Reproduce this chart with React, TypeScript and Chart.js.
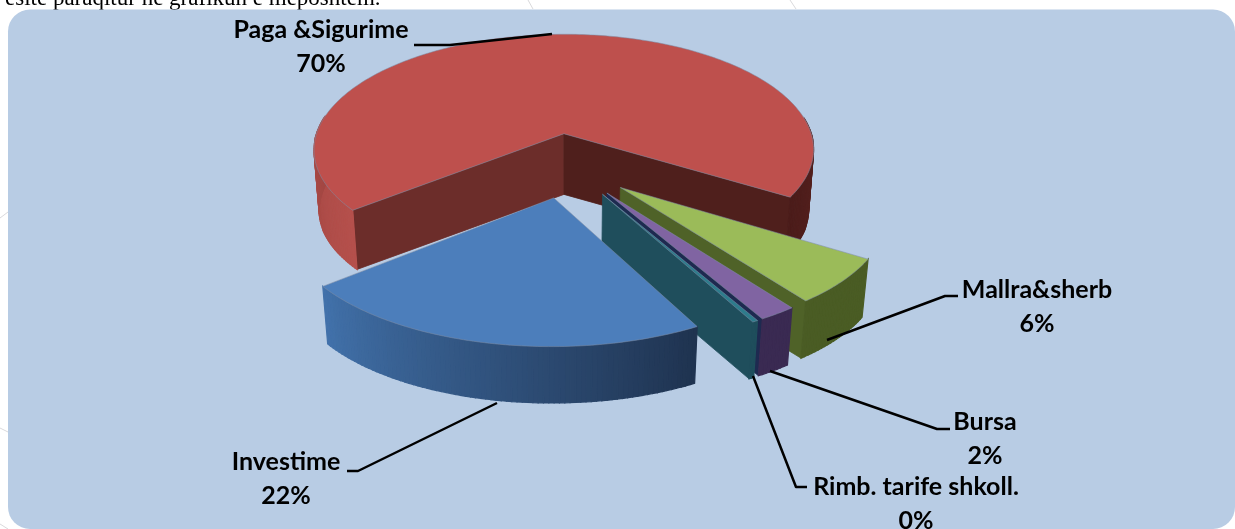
import React, { useEffect, useRef } from "react";
import { Chart, registerables } from "chart.js";

Chart.register(...registerables);

const categories = ["Paga &Sigurime", "Mallra&sherb", "Bursa", "Rimb. tarife shkoll.", "Investime"];
const values = [69.7, 6, 2, 0.3, 22];
const topColors = ["#BE504D", "#9BBB59", "#8064A2", "#2E7C8C", "#4C7EBB"];
const wallStart = ["#B5504C", "#4A5C24", "#3A2A52", "#1F4E5C", "#1F3350"];
const wallEnd = ["#4B1C1A", "#4A5C24", "#3A2A52", "#1F4E5C", "#4272AB"];
const sideStart = ["#6C2D2A", "#4F6228", "#1E2A50", "#1F4E5C", "#1F3350"];
const sideEnd = ["#4F1F1C", "#4F6228", "#1E2A50", "#1F4E5C", "#1F3350"];
const caption = "esite paraqitur në grafikun e mëposhtëm.";

// label layout: text centre x, first line y, leader line polyline
const labelLayout = [
  { x: 321, y: 30, line: [[414, 45], [450, 45], [552, 34]] },
  { x: 1037, y: 290, line: [[958, 296], [945, 296], [827, 340]] },
  { x: 985, y: 422, line: [[950, 429], [937, 429], [770, 371]] },
  { x: 916, y: 487, line: [[807, 487], [796, 487], [753, 376]] },
  { x: 286, y: 462, line: [[347, 471], [358, 471], [497, 403]] },
];
const decor = [
  [528, 0, 533, 9], [790, 0, 796, 9], [0, 428, 8, 432], [0, 524, 8, 529], [0, 218, 8, 212],
];

// projection of the pie plane
const RX = 257;
const RY = 120;
const PERSP_X = 0.145;
const PERSP_Y = 0.13;
const DEPTH = 60;
const BOTTOM_SCALE = 0.98;
const STEP = Math.PI / 180;

const hex = (c: string) => [1, 3, 5].map((i) => parseInt(c.slice(i, i + 2), 16));
const mix = (a: string, b: string, t: number) => {
  const A = hex(a), B = hex(b);
  return `rgb(${A.map((v, i) => Math.round(v + (B[i] - v) * t)).join(",")})`;
};

const pie3d = {
  id: "pie3d",
  beforeDraw(chart: any) {
    const c = chart.ctx as CanvasRenderingContext2D;
    c.save();
    c.fillStyle = "#fff";
    c.fillRect(0, 0, chart.width, chart.height);
    c.strokeStyle = "#d9d9dc";
    c.lineWidth = 1;
    decor.forEach(([a, b, d, e]) => {
      c.beginPath();
      c.moveTo(a, b);
      c.lineTo(d, e);
      c.stroke();
    });
    c.fillStyle = "#000";
    c.font = '23px "Liberation Serif"';
    c.textBaseline = "alphabetic";
    c.textAlign = "left";
    c.fillText(caption, 5, 5);
    c.fillStyle = "#B8CCE4";
    c.beginPath();
    c.roundRect(8, 9.5, 1227, 519.5, 22);
    c.fill();
    c.restore();
  },
  beforeDatasetsDraw(chart: any) {
    const c = chart.ctx as CanvasRenderingContext2D;
    const arcs = chart.getDatasetMeta(0).data;
    const project = (arc: any, angle: number, radial: number, low: boolean) => {
      const half = (arc.startAngle + arc.endAngle) / 2;
      const d = (arc.options.offset || 0) / 4 / arc.outerRadius;
      const u = d * Math.cos(half) + radial * Math.cos(angle);
      const v = d * Math.sin(half) + radial * Math.sin(angle);
      const sx = 1 / (1 - PERSP_X * v);
      const sy = 1 / (1 - PERSP_Y * v);
      const k = low ? BOTTOM_SCALE : 1;
      return [arc.x + RX * u * sx * k, arc.y + RY * v * sy * k + (low ? DEPTH : 0)];
    };
    const poly = (pts: number[][], fill: string, edge?: string, width = 1.2) => {
      c.beginPath();
      pts.forEach((p, i) => (i ? c.lineTo(p[0], p[1]) : c.moveTo(p[0], p[1])));
      c.closePath();
      c.fillStyle = fill;
      c.fill();
      if (edge) {
        c.strokeStyle = edge;
        c.lineWidth = width;
        c.stroke();
      }
    };
    c.save();
    [0, 1, 2, 3, 4].forEach((i) => {
      const arc = arcs[i];
      const a0 = arc.startAngle;
      const a1 = arc.endAngle;
      // cut walls
      if (Math.sin(a0 - Math.PI / 2) > 0) {
        poly([project(arc, a0, 0, false), project(arc, a0, 1, false), project(arc, a0, 1, true), project(arc, a0, 0, true)], sideStart[i], sideStart[i], 0.8);
      }
      if (Math.sin(a1 + Math.PI / 2) > 0) {
        poly([project(arc, a1, 0, false), project(arc, a1, 1, false), project(arc, a1, 1, true), project(arc, a1, 0, true)], sideEnd[i], sideEnd[i], 0.8);
      }
      // outer wall
      const n = Math.max(1, Math.ceil((a1 - a0) / STEP));
      for (let j = 0; j < n; j++) {
        const t0 = a0 + ((a1 - a0) * j) / n;
        const t1 = a0 + ((a1 - a0) * (j + 1)) / n;
        if (Math.sin(t0) < -0.15) continue;
        const col = mix(wallStart[i], wallEnd[i], j / n);
        poly([project(arc, t0, 1, false), project(arc, t1, 1, false), project(arc, t1, 1, true), project(arc, t0, 1, true)], col, col);
      }
      // top
      const top = [project(arc, a0, 0, false)];
      for (let j = 0; j <= n; j++) top.push(project(arc, a0 + ((a1 - a0) * j) / n, 1, false));
      poly(top, arc.options.backgroundColor, "rgba(125,140,165,0.7)", 0.75);
    });
    // labels
    c.strokeStyle = "#000";
    c.lineWidth = 2.5;
    c.lineJoin = "round";
    const data = chart.data.datasets[0].data as number[];
    const sum = data.reduce((a, b) => a + b, 0);
    labelLayout.forEach((l, i) => {
      c.beginPath();
      l.line.forEach((p, j) => (j ? c.lineTo(p[0], p[1]) : c.moveTo(p[0], p[1])));
      c.stroke();
      c.fillStyle = "#000";
      c.font = "bold 25px Lato";
      c.textAlign = "center";
      c.textBaseline = "middle";
      c.fillText(chart.data.labels[i], l.x, l.y);
      c.fillText(`${Math.round((data[i] / sum) * 100)}%`, l.x, l.y + 33.5);
    });
    c.restore();
    return false;
  },
};

export default function App() {
  const ref = useRef<HTMLCanvasElement>(null);
  useEffect(() => {
    document.body.style.margin = "0";
    document.body.style.overflow = "hidden";
    const chart = new Chart(ref.current as HTMLCanvasElement, {
      type: "pie",
      data: {
        labels: categories,
        datasets: [{ data: values, backgroundColor: topColors, offset: 115.7, borderWidth: 0 }],
      },
      options: {
        responsive: false,
        animation: false,
        rotation: 231,
        layout: { padding: { right: 99, bottom: 199 } },
        plugins: { legend: { display: false }, tooltip: { enabled: false } },
      },
      plugins: [pie3d],
    } as any);
    return () => chart.destroy();
  }, []);
  return <canvas ref={ref} width={1235} height={529} style={{ display: "block", position: "absolute", left: 0, top: 0 }} />;
}
